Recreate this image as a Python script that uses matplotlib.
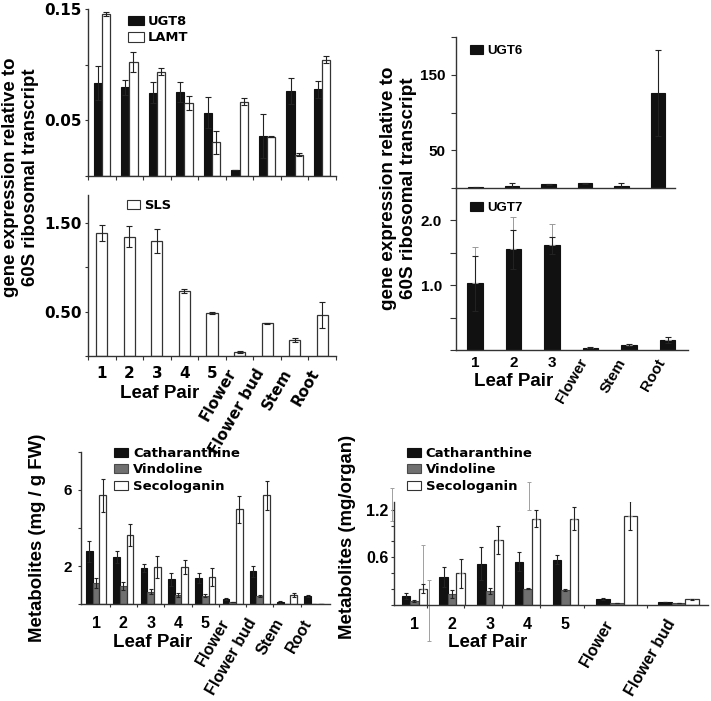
import matplotlib
matplotlib.use("Agg")
import matplotlib.pyplot as plt
from matplotlib.patches import Patch
import numpy as np

W, H, DPI = 711, 701, 100

# ---------------- data ----------------
tissues9 = ['1', '2', '3', '4', '5', 'Flower', 'Flower bud', 'Stem', 'Root']
ugt8 = [0.0837, 0.0795, 0.0747, 0.0756, 0.0567, 0.0048, 0.0357, 0.0759, 0.0777]
ugt8_err = [0.0153, 0.0069, 0.0096, 0.0090, 0.0138, 0.0, 0.0195, 0.0117, 0.0078]
lamt = [0.1452, 0.1023, 0.0936, 0.0651, 0.0300, 0.0666, 0.0351, 0.0189, 0.1044]
lamt_err = [0.0018, 0.0093, 0.0030, 0.0063, 0.0102, 0.0033, 0.0006, 0.0012, 0.0033]
sls = [1.38, 1.342, 1.294, 0.727, 0.48, 0.045, 0.367, 0.176, 0.457]
sls_err = [0.09, 0.12, 0.131, 0.023, 0.01, 0.01, 0.008, 0.023, 0.147]

tissues6 = ['1', '2', '3', 'Flower', 'Stem', 'Root']
ugt6 = [1.3, 3.5, 5.3, 6.6, 3.5, 125.7]
ugt6_err = [0.5, 3.1, 0.9, 0.4, 3.5, 57.3]
ugt7 = [1.026, 1.549, 1.615, 0.036, 0.077, 0.154]
ugt7_err = [0.42, 0.297, 0.129, 0.005, 0.013, 0.051]
ugt7_err_alt = [0.564, 0.501, 0.325, 0.0, 0.0, 0.0]

cath = [2.77, 2.47, 1.90, 1.31, 1.37, 0.29, 1.73, 0.12, 0.43]
cath_err = [0.57, 0.30, 0.23, 0.35, 0.26, 0.06, 0.29, 0.04, 0.05]
vind = [1.12, 0.97, 0.66, 0.48, 0.45, 0.10, 0.45, 0.0, 0.0]
vind_err = [0.26, 0.21, 0.14, 0.09, 0.09, 0.0, 0.05, 0.0, 0.0]
seco = [5.71, 3.63, 1.955, 1.955, 1.42, 4.98, 5.71, 0.48, 0.0]
seco_err = [0.88, 0.57, 0.60, 0.39, 0.47, 0.71, 0.78, 0.09, 0.0]

tissues7 = ['1', '2', '3', '4', '5', 'Flower', 'Flower bud']
cath_o = [0.112, 0.356, 0.521, 0.546, 0.571, 0.074, 0.033]
cath_o_err = [0.041, 0.124, 0.211, 0.120, 0.058, 0.009, 0.0]
vind_o = [0.050, 0.137, 0.178, 0.203, 0.190, 0.029, 0.020]
vind_o_err = [0.012, 0.049, 0.042, 0.007, 0.010, 0.0, 0.0]
seco_o = [0.207, 0.400, 0.815, 1.084, 1.088, 1.125, 0.070]
seco_o_err = [0.053, 0.180, 0.178, 0.106, 0.142, 0.185, 0.009]
seco_o_err_alt = [0.546, 0.0, 0.0, 0.0, 0.0, 0.0, 0.0]
# misplaced grey error bars seen in the organ panel (category units)
stray_x = [0.39, -0.60, 3.04]
stray_mid = [-0.073, 1.265, 1.37]
stray_half = [0.383, 0.205, 0.18]

# ---------------- figure ----------------
fig = plt.figure(figsize=(W / DPI, H / DPI), dpi=DPI)
fig.patch.set_facecolor('white')
DJ = 'DejaVu Sans'
LB = 'Liberation Sans'
BLACK = '#111111'
GREY = '#707070'
SP = '#333333'


def add_ax(x0, y0, x1, y1):
    ax = fig.add_axes([x0 / W, 1 - y1 / H, (x1 - x0) / W, (y1 - y0) / H])
    for s in ['top', 'right']:
        ax.spines[s].set_visible(False)
    for s in ['left', 'bottom']:
        ax.spines[s].set_color(SP)
        ax.spines[s].set_linewidth(1.0)
    ax.patch.set_alpha(0)
    return ax


def set_y(ax, ticks, labels, fam, size, length, pad):
    ax.set_yticks(ticks)
    ax.set_yticklabels(labels, fontfamily=fam, fontweight='bold', fontsize=size)
    ax.tick_params(axis='y', direction='out', length=length * 0.72, width=0.8,
                   pad=pad * 0.72, color=SP)


def set_x(ax, labels, centers, fam, size, pad, rot_from, minor=None, mlen=4):
    ax.set_xticks(centers)
    ax.set_xticklabels(labels, fontfamily=fam, fontweight='bold', fontsize=size)
    ax.tick_params(axis='x', which='major', length=0, pad=pad * 0.72)
    for i, t in enumerate(ax.get_xticklabels()):
        if i >= rot_from:
            t.set_rotation(60)
            t.set_ha('right')
    if minor is not None:
        ax.set_xticks(minor, minor=True)
        ax.tick_params(axis='x', which='minor', direction='out', length=mlen * 0.72,
                       width=0.8, color=SP)


def err(ax, x, y, e, color='#222222', cap=2.0, lw=0.8, **kw):
    ax.errorbar(x, y, yerr=e, fmt='none', ecolor=color, elinewidth=lw,
                capsize=cap, capthick=lw, **kw)


def add_legend(ax, entries, x_px, y_px, fam, size, hl, hh, htp, ls):
    handles = [Patch(facecolor=fc, edgecolor=ec, linewidth=0.8) for _, fc, ec in entries]
    labels = [lab for lab, _, _ in entries]
    ax.legend(handles, labels, loc='upper left',
              bbox_to_anchor=(x_px / W, 1 - y_px / H), bbox_transform=fig.transFigure,
              frameon=False, borderpad=0, borderaxespad=0, handlelength=hl,
              handleheight=hh, handletextpad=htp, labelspacing=ls,
              prop={'family': fam, 'weight': 'bold', 'size': size})


# ---- Panel A: UGT8 / LAMT ----
x9 = np.arange(len(tissues9))
axA = add_ax(88, 9, 336, 175.5)
wA = 0.3
axA.bar(x9 - wA / 2, ugt8, wA, color=BLACK, edgecolor=BLACK, linewidth=0.8)
axA.bar(x9 + wA / 2, lamt, wA, color='white', edgecolor=SP, linewidth=0.9)
err(axA, x9 - wA / 2, ugt8, ugt8_err)
err(axA, x9 + wA / 2, lamt, lamt_err)
axA.set_xlim(-0.5, 8.5)
axA.set_ylim(0, 0.15)
set_y(axA, [0, 0.05, 0.10, 0.15], ['', '0.05', '', '0.15'], DJ, 11, 3, 3)
axA.set_xticks([])
axA.set_xticks(np.arange(-0.5, 9, 1.0), minor=True)
axA.tick_params(axis='x', which='minor', direction='out', length=3, width=0.8, color=SP)
add_legend(axA, [('UGT8', BLACK, BLACK), ('LAMT', 'white', SP)], 127.7, 15,
           DJ, 9.4, 1.22, 0.78, 0.29, 0.25)

# ---- Panel B: SLS ----
axB = add_ax(88, 195, 336, 356)
axB.bar(x9, sls, 0.4, color='white', edgecolor=SP, linewidth=0.9)
err(axB, x9, sls, sls_err)
axB.set_xlim(-0.5, 8.5)
axB.set_ylim(0, 1.81)
set_y(axB, [0, 0.5, 1.0, 1.5], ['', '0.50', '', '1.50'], DJ, 11, 3, 3)
set_x(axB, tissues9, x9, DJ, 11, 10, 5, minor=np.arange(-0.5, 9, 1.0))
add_legend(axB, [('SLS', 'white', SP)], 127, 199, DJ, 9.4, 1.0, 0.78, 0.29, 0.25)

# ---- Panel C: UGT6 ----
x6 = np.arange(len(tissues6))
axC = add_ax(455.7, 36.7, 675, 188.3)
axC.bar(x6, ugt6, 0.4, color=BLACK, edgecolor=BLACK, linewidth=0.8)
err(axC, x6, ugt6, ugt6_err)
axC.set_xlim(-0.55, 5.47)
axC.set_ylim(0, 200)
set_y(axC, [0, 50, 100, 150, 200], ['', '50', '', '150', ''], LB, 11, 5, 5)
axC.set_xticks([])
add_legend(axC, [('UGT6', BLACK, BLACK)], 470, 45, LB, 9.5, 1.0, 0.7, 0.28, 0.25)

# ---- Panel D: UGT7 ----
axD = add_ax(456, 187.7, 688, 350)
axD.bar(x6, ugt7, 0.4, color=BLACK, edgecolor=BLACK, linewidth=0.8)
err(axD, x6, ugt7, [[0] * 6, ugt7_err_alt], color='#9a9a9a', lw=0.7)
err(axD, x6, ugt7, ugt7_err)
axD.set_xlim(-0.49, 5.53)
axD.set_ylim(0, 2.5)
set_y(axD, [0, 0.5, 1.0, 1.5, 2.0], ['', '', '1.0', '', '2.0'], LB, 11, 6, 8)
set_x(axD, tissues6, x6, LB, 11, 6, 3)
add_legend(axD, [('UGT7', BLACK, BLACK)], 470, 202, LB, 9.5, 1.0, 0.7, 0.28, 0.25)

# ---- Panel E: metabolites per g FW ----
axE = add_ax(81.3, 451.7, 330, 604.3)
wE = 0.245
axE.bar(x9 - wE, cath, wE, color=BLACK, edgecolor=BLACK, linewidth=0.8)
axE.bar(x9, vind, wE, color=GREY, edgecolor='#4a4a4a', linewidth=0.8)
axE.bar(x9 + wE, seco, wE, color='white', edgecolor=SP, linewidth=0.9)
err(axE, x9 - wE, cath, cath_err, cap=1.5)
err(axE, x9, vind, vind_err, cap=1.5)
err(axE, x9 + wE, seco, seco_err, cap=1.5)
axE.set_xlim(-0.54, 8.57)
axE.set_ylim(0, 8)
set_y(axE, [0, 2, 4, 6, 8], ['', '2', '', '6', ''], LB, 11, 3, 6.5)
set_x(axE, tissues9, x9, LB, 11.5, 12, 5, minor=np.arange(0.5, 8, 1.0), mlen=3)
add_legend(axE, [('Catharanthine', BLACK, BLACK), ('Vindoline', GREY, '#4a4a4a'),
                 ('Secologanin', 'white', SP)], 114, 447, DJ, 9.5, 1.08, 0.65, 0.36, 0.26)

# ---- Panel F: metabolites per organ ----
axF = add_ax(393.5, 501.7, 708, 605)
cF = np.array([0, 1, 2, 3, 4, 5.36, 7.0])
wF = np.array([0.225] * 5 + [0.366] * 2)
axF.bar(cF - wF, cath_o, wF, color=BLACK, edgecolor=BLACK, linewidth=0.8)
axF.bar(cF, vind_o, wF, color=GREY, edgecolor='#4a4a4a', linewidth=0.8)
axF.bar(cF + wF, seco_o, wF, color='white', edgecolor=SP, linewidth=0.9)
err(axF, cF + wF, seco_o, [[0] * 7, seco_o_err_alt], color='#a0a0a0', lw=0.7, cap=1.5)
err(axF, stray_x, stray_mid, stray_half, color='#a0a0a0', lw=0.7, cap=1.5, clip_on=False)
err(axF, cF - wF, cath_o, cath_o_err, cap=1.5)
err(axF, cF, vind_o, vind_o_err, cap=1.5)
err(axF, cF + wF, seco_o, seco_o_err, cap=1.5)
axF.set_xlim(-0.55, 7.78)
axF.set_ylim(0, 1.3)
set_y(axF, np.round(np.arange(0, 1.21, 0.2), 1), ['', '', '', '0.6', '', '', '1.2'],
      LB, 11.5, 3, 2)
set_x(axF, tissues7, cF, LB, 11.5, 12, 5, minor=[0.33, 1.33, 2.33, 3.33, 4.5, 6.17], mlen=3)
add_legend(axF, [('Catharanthine', BLACK, BLACK), ('Vindoline', GREY, '#4a4a4a'),
                 ('Secologanin', 'white', SP)], 406.7, 447, DJ, 9.5, 1.08, 0.65, 0.36, 0.26)

# ---- axis titles ----
lab = dict(fontfamily=LB, fontweight='bold', rotation=90, ha='center', va='center')
fig.text(20.5 / W, 1 - 177 / H, 'gene expression relative to\n60S ribosomal transcript',
         fontsize=13.4, linespacing=1.25, **lab)
fig.text(398.5 / W, 1 - 188 / H, 'gene expression relative to\n60S ribosomal transcript',
         fontsize=13.6, linespacing=1.25, **lab)
fig.text(38 / W, 1 - 537.5 / H, 'Metabolites (mg / g FW)', fontsize=13.4, **lab)
fig.text(347.5 / W, 1 - 537 / H, 'Metabolites (mg/organ)', fontsize=13.4, **lab)

lp = dict(fontfamily=LB, fontweight='bold', fontsize=13.5, ha='center', va='baseline')
fig.text(160 / W, 1 - 398 / H, 'Leaf Pair', **lp)
fig.text(514 / W, 1 - 386 / H, 'Leaf Pair', **lp)
fig.text(153 / W, 1 - 646.7 / H, 'Leaf Pair', **lp)
fig.text(487.5 / W, 1 - 646.7 / H, 'Leaf Pair', **lp)

fig.savefig('out.png', dpi=DPI, facecolor='white')
